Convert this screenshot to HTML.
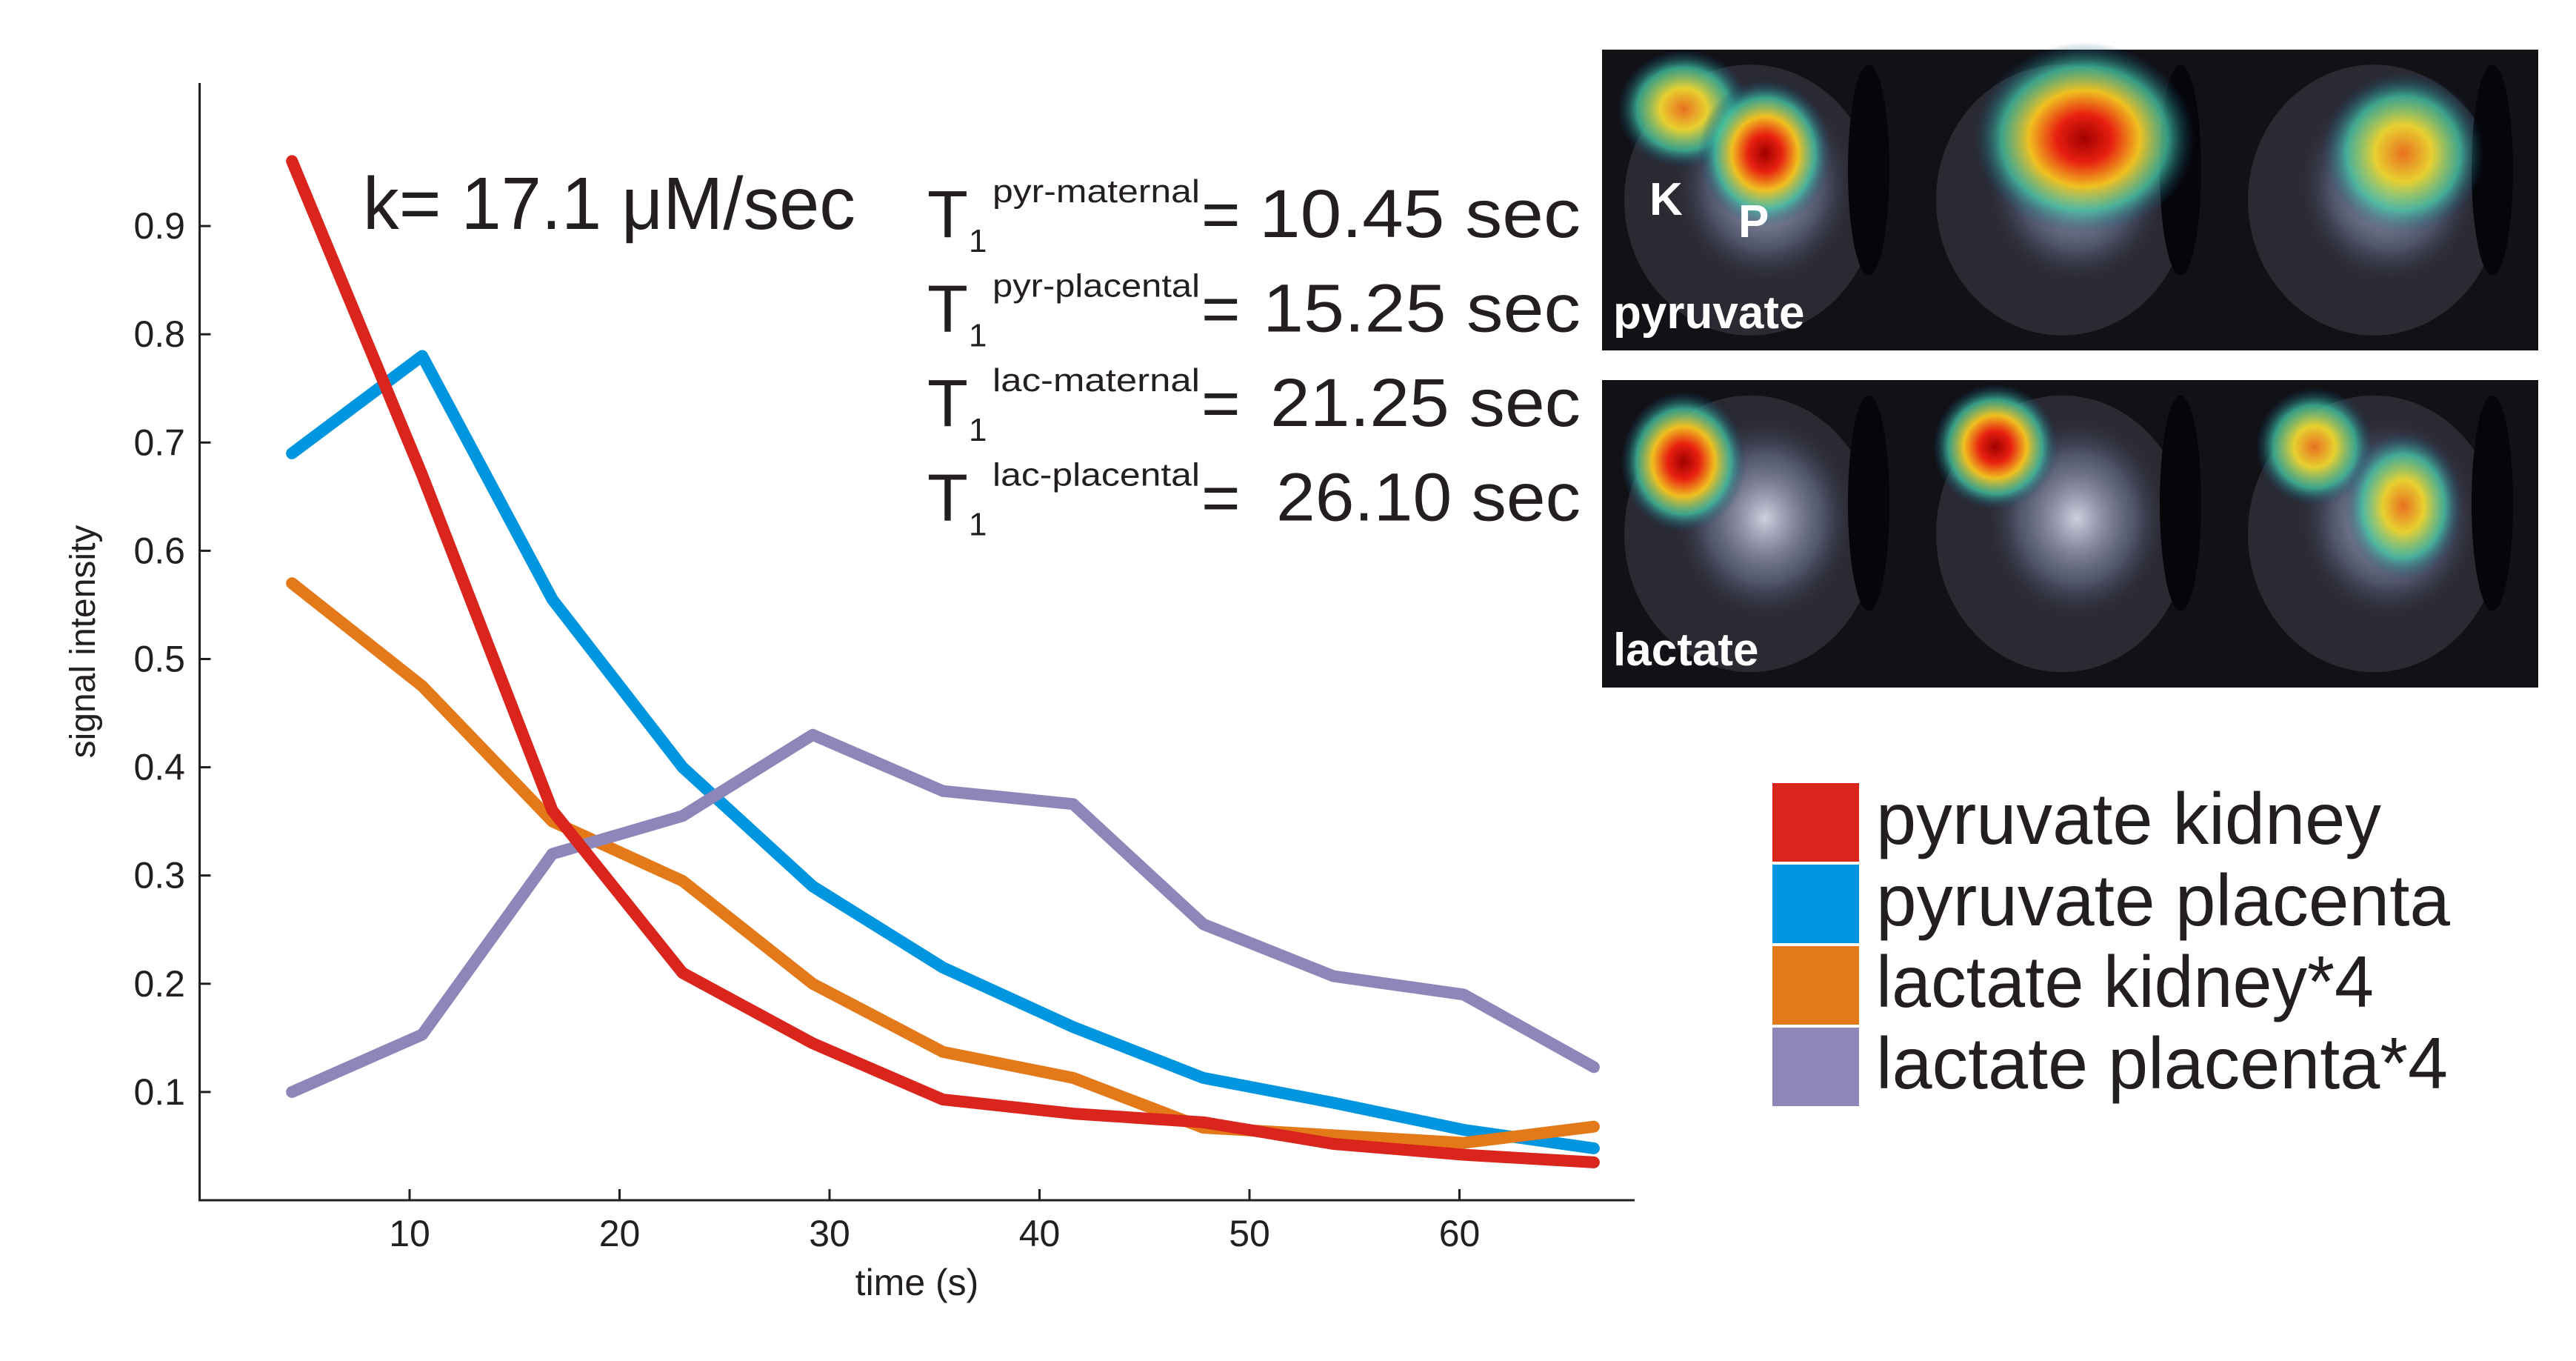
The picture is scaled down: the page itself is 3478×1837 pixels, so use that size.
<!DOCTYPE html>
<html><head><meta charset="utf-8"><style>
html,body{margin:0;padding:0;background:#fff}
svg{display:block}
text{font-family:"Liberation Sans",sans-serif;fill:#231f20}
</style></head><body>
<svg id="fig" width="3478" height="1837" viewBox="0 0 3478 1837">
<defs>
<radialGradient id="hot" cx="50%" cy="50%" r="50%">
<stop offset="0" stop-color="#a00000"/><stop offset="0.25" stop-color="#e82010"/><stop offset="0.5" stop-color="#f0c020"/><stop offset="0.75" stop-color="#40c0a0" stop-opacity="0.8"/><stop offset="1" stop-color="#104070" stop-opacity="0"/></radialGradient>
<radialGradient id="warm" cx="50%" cy="50%" r="50%">
<stop offset="0" stop-color="#e87020"/><stop offset="0.35" stop-color="#e8d030"/><stop offset="0.7" stop-color="#40c0a0" stop-opacity="0.8"/><stop offset="1" stop-color="#104070" stop-opacity="0"/></radialGradient>
<radialGradient id="body" cx="50%" cy="50%" r="50%">
<stop offset="0" stop-color="#d0d0e0"/><stop offset="0.6" stop-color="#707898" stop-opacity="0.55"/><stop offset="1" stop-color="#202030" stop-opacity="0"/></radialGradient>
</defs>
<g id="chart"></g>
<g id="imgs"></g>
<g id="legend"></g>
</svg>
<script>
const times=[4.4,10.6,16.8,23,29.2,35.4,41.6,47.8,54,60.2,66.4];
const pyrKidney=[0.96,0.67,0.36,0.21,0.145,0.093,0.08,0.072,0.052,0.042,0.035];
const pyrPlacenta=[0.69,0.78,0.555,0.40,0.29,0.215,0.16,0.113,0.09,0.065,0.048];
const lacKidney=[0.57,0.475,0.35,0.295,0.20,0.137,0.113,0.067,0.06,0.053,0.068];
const lacPlacenta=[0.10,0.153,0.32,0.355,0.43,0.378,0.366,0.255,0.207,0.19,0.123];
const xTicks=[10,20,30,40,50,60];
const yTicks=[0.1,0.2,0.3,0.4,0.5,0.6,0.7,0.8,0.9];
const seriesNames=["pyruvate kidney","pyruvate placenta","lactate kidney*4","lactate placenta*4"];
const seriesColors=["#da251d","#0095df","#e4791a","#8e86b8"];

const NS="http://www.w3.org/2000/svg";
function mk(tag,attrs,parent,txt){const e=document.createElementNS(NS,tag);for(const k in attrs)e.setAttribute(k,attrs[k]);if(txt!==undefined)e.textContent=txt;parent.appendChild(e);return e;}
const X0=269.5,XS=28.35,Y0=1620,YS=1461;
const xs=v=>X0+v*XS, ys=v=>Y0-v*YS;
const chart=document.getElementById('chart');

let ax=mk('path',{d:`M${X0} 112 V1620 H2207`,fill:'none',stroke:'#231f20','stroke-width':3},chart);


xTicks.forEach(t=>{
  let l=mk('line',{x1:xs(t),x2:xs(t),y1:1620,y2:1605,stroke:'#231f20','stroke-width':3},chart);
  
  
  let tx=mk('text',{x:xs(t),y:1682,'font-size':50,'text-anchor':'middle'},chart,String(t));
  
  
});
yTicks.forEach(t=>{
  let l=mk('line',{x1:X0,x2:X0+15,y1:ys(t),y2:ys(t),stroke:'#231f20','stroke-width':3},chart);
  
  
  let tx=mk('text',{x:250,y:ys(t)+17,'font-size':50,'text-anchor':'end'},chart,t.toFixed(1));
  
  
});
let xl=mk('text',{x:1238,y:1748,'font-size':50,'text-anchor':'middle'},chart,'time (s)');


let yl=mk('text',{x:0,y:0,'font-size':48,'text-anchor':'middle',transform:'translate(128,866) rotate(-90)'},chart,'signal intensity');



const seriesData=[pyrPlacenta,lacKidney,lacPlacenta,pyrKidney];
const colorOrder=[1,2,3,0];
seriesData.forEach((arr,i)=>{
  const d=arr.map((v,j)=>(j?'L':'M')+xs(times[j]).toFixed(1)+' '+ys(v).toFixed(1)).join(' ');
  let p=mk('path',{d:d,fill:'none',stroke:seriesColors[colorOrder[i]],'stroke-width':16,'stroke-linejoin':'round','stroke-linecap':'round'},chart);
  
  
});

let k=mk('text',{x:490,y:309,'font-size':100,textLength:665,lengthAdjust:'spacingAndGlyphs'},chart,'k= 17.1 μM/sec');


const t1Sup=["pyr-maternal","pyr-placental","lac-maternal","lac-placental"];
const t1Val=["10.45 sec","15.25 sec","21.25 sec","26.10 sec"];
const valX=[1700,1705,1715,1723];
t1Sup.forEach((s,i)=>{
  const b=320+i*127.5;
  const g=mk('g',{},chart);
  
  
  mk('text',{x:1252,y:b,'font-size':90},g,'T');
  mk('text',{x:1308,y:b+20,'font-size':44},g,'1');
  mk('text',{x:1340,y:b-47,'font-size':44,textLength:280,lengthAdjust:'spacingAndGlyphs'},g,s);
  mk('text',{x:1622,y:b,'font-size':90},g,'=');
  mk('text',{x:valX[i],y:b,'font-size':92,textLength:2134-valX[i],lengthAdjust:'spacingAndGlyphs'},g,t1Val[i]);
});

// images
const imgs=document.getElementById('imgs');
function panel(y,h,label,spots){
  const g=mk('g',{},imgs);
  
  
  mk('rect',{x:2163,y:y,width:1264,height:h,fill:'#111116'},g);
  for(let i=0;i<3;i++){
    const x=2163+i*421;
    mk('ellipse',{cx:x+200,cy:y+h*0.5,rx:170,ry:h*0.45,fill:'#2a2a32'},g);
    mk('ellipse',{cx:x+220,cy:y+h*0.45,rx:130,ry:h*0.35,fill:'url(#body)'},g);
    mk('ellipse',{cx:x+360,cy:y+h*0.4,rx:28,ry:h*0.35,fill:'#05050a'},g);
    spots[i].forEach(s=>mk('ellipse',{cx:x+s[0],cy:y+s[1],rx:s[2],ry:s[3],fill:'url(#'+s[4]+')'},g));
  }
  mk('text',{x:2178,y:y+h-30,'font-size':62,'font-weight':'bold',style:'fill:#fff'},g,label);
  return g;
}
const pg=panel(67,406,'pyruvate',[[[110,80,90,80,'warm'],[220,140,90,100,'hot']],[[230,120,150,130,'hot']],[[240,140,110,110,'warm']]]);
const lg=panel(513,415,'lactate',[[[110,110,85,95,'hot']],[[110,90,85,85,'hot']],[[120,90,80,80,'warm'],[240,170,80,100,'warm']]]);
let kk=mk('text',{x:2227,y:290,'font-size':62,'font-weight':'bold',style:'fill:#fff'},pg,'K');


let pp=mk('text',{x:2347,y:320,'font-size':62,'font-weight':'bold',style:'fill:#fff'},pg,'P');



// legend
const leg=document.getElementById('legend');
const legW=[682,775,672,772];
seriesNames.forEach((n,i)=>{
  const y=1057+i*110;
  const g=mk('g',{},leg);
  
  
  mk('rect',{x:2393,y:y,width:117,height:106,fill:seriesColors[i]},g);
  mk('text',{x:2533,y:y+82,'font-size':98,textLength:legW[i],lengthAdjust:'spacingAndGlyphs'},g,n);
});
</script>
</body></html>
